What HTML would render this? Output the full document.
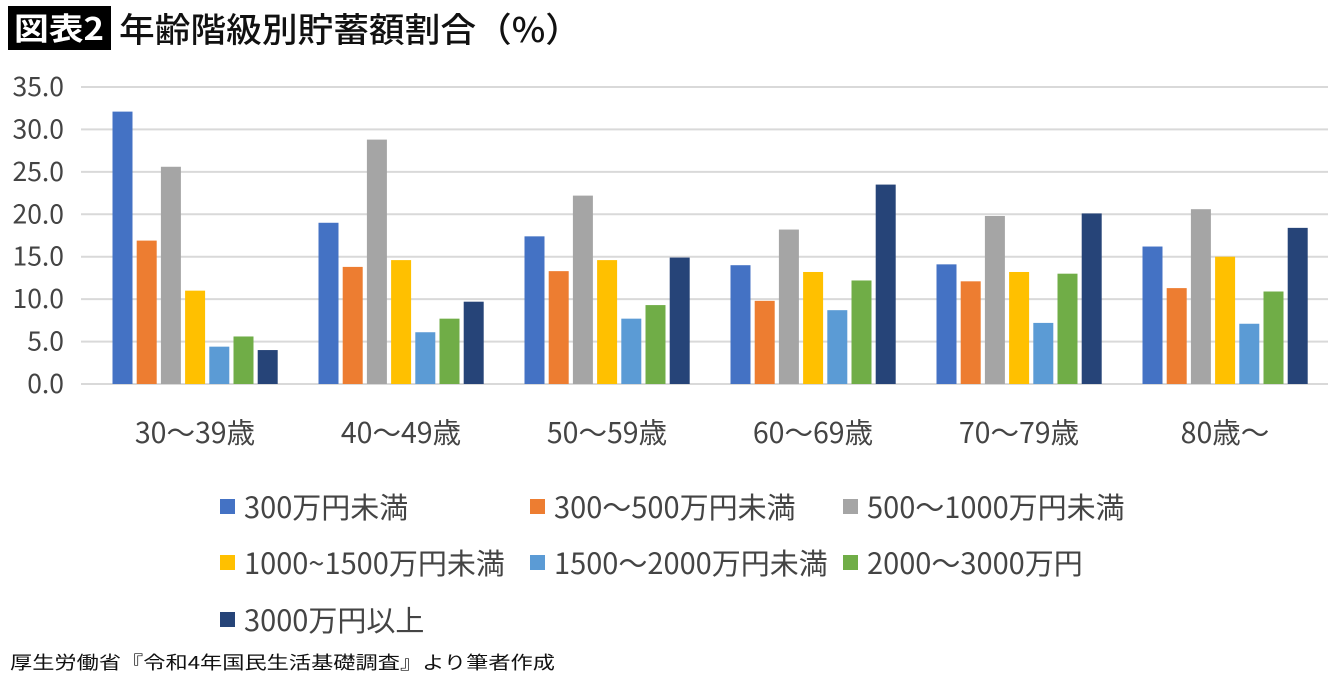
<!DOCTYPE html>
<html><head><meta charset="utf-8"><style>
body{margin:0;background:#fff;width:1340px;height:677px;overflow:hidden;font-family:"Noto Sans CJK JP","Liberation Sans",sans-serif;}
</style></head><body>
<svg id="c" width="1340" height="677" xmlns="http://www.w3.org/2000/svg" style="font-family:'Noto Sans CJK JP','Liberation Sans',sans-serif">
<rect x="8" y="6" width="103" height="44" fill="#000"/>
<text x="59" y="40" fill="#fff" font-size="31" font-weight="bold" text-anchor="middle" textLength="90" lengthAdjust="spacingAndGlyphs">図表2</text>
<text x="119" y="42" fill="#111" font-size="34" font-weight="500" textLength="462" lengthAdjust="spacingAndGlyphs">年齢階級別貯蓄額割合（%）</text>
<g id="grid"></g><g id="bars"></g><g id="legend"></g>
<text x="10" y="669" font-size="18" fill="#111" textLength="545" lengthAdjust="spacingAndGlyphs">厚生労働省『令和4年国民生活基礎調査』より筆者作成</text>
</svg>
<script>
const categories=["30～39歳","40～49歳","50～59歳","60～69歳","70～79歳","80歳～"];
const seriesNames=["300万円未満","300～500万円未満","500～1000万円未満","1000~1500万円未満","1500～2000万円未満","2000～3000万円","3000万円以上"];
const s1=[32.1,19.0,17.4,14.0,14.1,16.2];
const s2=[16.9,13.8,13.3,9.8,12.1,11.3];
const s3=[25.6,28.8,22.2,18.2,19.8,20.6];
const s4=[11.0,14.6,14.6,13.2,13.2,15.0];
const s5=[4.4,6.1,7.7,8.7,7.2,7.1];
const s6=[5.6,7.7,9.3,12.2,13.0,10.9];
const s7=[4.0,9.7,14.9,23.5,20.1,18.4];
const yTicks=["0.0","5.0","10.0","15.0","20.0","25.0","30.0","35.0"];
const series=[s1,s2,s3,s4,s5,s6,s7];
const colors=["#4472C4","#ED7D31","#A5A5A5","#FFC000","#5B9BD5","#70AD47","#264478"];
const NS="http://www.w3.org/2000/svg";
const y0=384,yTop=87,yMax=35,gridLeft=81,left=92,right=1328;
const y=v=>y0-(v/yMax)*(y0-yTop);
const gw=(right-left)/categories.length;
const x=(i,j)=>left+gw*i+gw/2-82.5+j*24.2;
function mk(tag,attrs,parent){const e=document.createElementNS(NS,tag);for(const k in attrs)e.setAttribute(k,attrs[k]);parent.appendChild(e);return e;}
const grid=document.getElementById('grid');
yTicks.forEach((t,i)=>{const v=parseFloat(t);
 const l=mk('line',{x1:gridLeft,x2:right,y1:y(v),y2:y(v),stroke:'#d9d9d9','stroke-width':2},grid);
 
 
 const tx=mk('text',{x:64,y:y(v)+9,'font-size':26.5,fill:'#444','text-anchor':'end'},grid);
 tx.textContent=t;
 
 
});
const bars=document.getElementById('bars');
categories.forEach((c,i)=>{
 series.forEach((s,j)=>{
  const r=mk('rect',{x:x(i,j),y:y(s[i]),width:20,height:y0-y(s[i]),fill:colors[j]},bars);
  
  
 });
 const t=mk('text',{x:left+gw*i+gw/2,y:443,'font-size':28.5,fill:'#444','text-anchor':'middle'},bars);
 t.textContent=c;
 
 
});
const lg=document.getElementById('legend');
const lpos=[[220,507],[530,507],[843,507],[220,563],[530,563],[843,563],[220,620]];
seriesNames.forEach((n,j)=>{
 const [lx,ly]=lpos[j];
 const r=mk('rect',{x:lx,y:ly-8,width:15,height:15,fill:colors[j]},lg);
 
 
 const t=mk('text',{x:lx+24,y:ly+11,'font-size':29,fill:'#444'},lg);
 t.textContent=n;
 
 
});
</script>
</body></html>
